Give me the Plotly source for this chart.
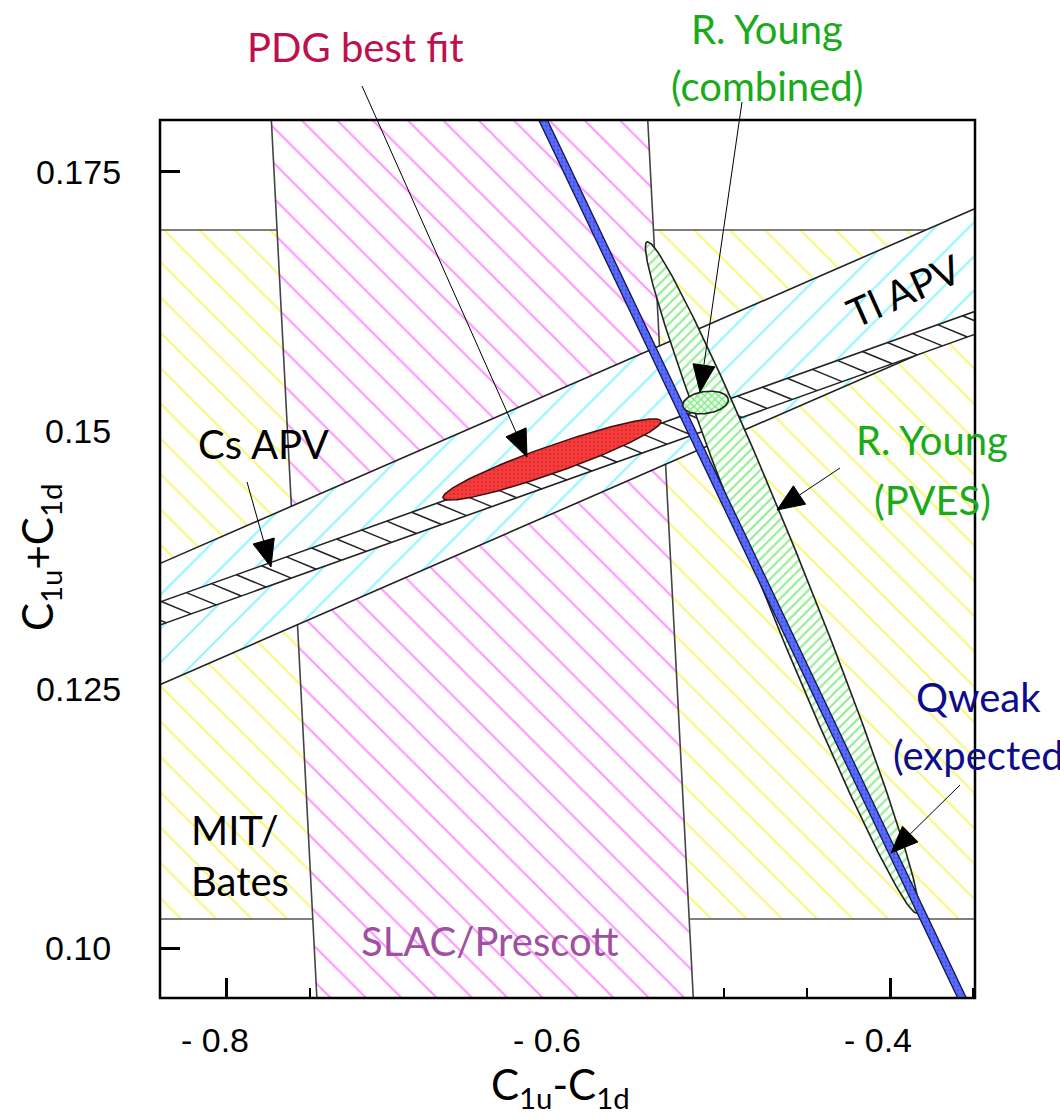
import numpy as np
import plotly.graph_objects as go

# ---------------- data ----------------
x_range = [-0.8404, -0.3489]          # C1u - C1d
y_range = [0.09517, 0.18002]          # C1u + C1d

x_tick_vals = [-0.8, -0.6, -0.4]
x_tick_text = ["- 0.8", "- 0.6", "- 0.4"]
x_minor_vals = [-0.8, -0.75, -0.7, -0.65, -0.6, -0.55, -0.5, -0.45, -0.4, -0.35]
y_tick_vals = [0.10, 0.125, 0.15, 0.175]
y_tick_text = ["0.10", "0.125", "0.15", "0.175"]

# MIT/Bates: allowed range of C1u+C1d
bates_y = [0.1028, 0.1694]

# SLAC/Prescott band: x = center + tilt*(y - ref_y) +- halfwidth
slac_center = -0.6468
slac_ref_y = 0.14
slac_tilt = -0.3236
slac_halfwidth = 0.1135

# Tl APV band: y = center + slope*(x - ref_x) +- halfwidth
tl_center = 0.14809
tl_ref_x = -0.6
tl_slope = 0.0698
tl_halfwidth = 0.00585

# Cs APV band
cs_center = 0.14607
cs_ref_x = -0.6
cs_slope = 0.05716
cs_halfwidth = 0.00111

# Qweak (expected) band: x = center + tilt*(y - ref_y) +- halfwidth
qweak_center = -0.5200
qweak_ref_y = 0.15
qweak_tilt = -2.978
qweak_halfwidth = 0.0026

# error ellipses: [center x, center y, sigma x, sigma y, correlation]
pdg_ellipse = [-0.6040, 0.14721, 0.0658, 0.003924, 0.934]
pves_ellipse = [-0.46526, 0.13581, 0.08239, 0.032444, -0.984]
combined_ellipse = [-0.5114, 0.15272, 0.01375, 0.001097, 0.22]

# ---------------- helpers ----------------
W, H = 1060, 1119
ML, MR, MT, MB = 160, 85, 120, 121
PW, PH = W - ML - MR, H - MT - MB


def pxx(x):
    return (x - ML) / PW


def pxy(y):
    return (H - MB - y) / PH


def ellipse(p, n=300):
    cx, cy, sx, sy, rho = p
    t = np.linspace(0, 2 * np.pi, n)
    x = cx + sx * np.cos(t)
    y = cy + sy * (rho * np.cos(t) + np.sqrt(1 - rho ** 2) * np.sin(t))
    return x, y


def xband(center, ref_y, tilt, hw, y0=0.08, y1=0.19):
    xl = lambda y: center + tilt * (y - ref_y) - hw
    xr = lambda y: center + tilt * (y - ref_y) + hw
    return ([xl(y0), xr(y0), xr(y1), xl(y1), xl(y0)], [y0, y0, y1, y1, y0])


def yband(center, ref_x, slope, hw, x0=-0.9, x1=-0.3):
    yl = lambda x: center + slope * (x - ref_x) - hw
    yu = lambda x: center + slope * (x - ref_x) + hw
    return ([x0, x1, x1, x0, x0], [yu(x0), yu(x1), yl(x1), yl(x0), yu(x0)])


fig = go.Figure()

# MIT/Bates (yellow)
fig.add_trace(go.Scatter(
    x=[-0.9, -0.3, -0.3, -0.9, -0.9],
    y=[bates_y[0], bates_y[0], bates_y[1], bates_y[1], bates_y[0]],
    mode="lines", fill="toself", line=dict(color="#555555", width=1.5),
    fillpattern=dict(shape="\\", fgcolor="#f5f000", bgcolor="white", size=25, solidity=0.09),
    hoverinfo="skip"))

# SLAC/Prescott (magenta)
sx_, sy_ = xband(slac_center, slac_ref_y, slac_tilt, slac_halfwidth)
fig.add_trace(go.Scatter(
    x=sx_, y=sy_, mode="lines", fill="toself", line=dict(color="#444444", width=1.6),
    fillpattern=dict(shape="\\", fgcolor="#ff30ff", bgcolor="white", size=25, solidity=0.09),
    hoverinfo="skip"))

# Tl APV (cyan)
tx_, ty_ = yband(tl_center, tl_ref_x, tl_slope, tl_halfwidth)
fig.add_trace(go.Scatter(
    x=tx_, y=ty_, mode="lines", fill="toself", line=dict(color="#222222", width=1.6),
    fillpattern=dict(shape="/", fgcolor="#22eeff", bgcolor="white", size=24, solidity=0.09),
    hoverinfo="skip"))

# Cs APV band (white with black hatch)
cx_, cy_ = yband(cs_center, cs_ref_x, cs_slope, cs_halfwidth)
fig.add_trace(go.Scatter(
    x=cx_, y=cy_, mode="lines", fill="toself", fillcolor="white",
    line=dict(color="#222222", width=1.6), hoverinfo="skip"))
hx, hy = [], []
step, slant = 0.0151, 0.018
for x0 in np.arange(-0.9, -0.3, step):
    x1 = x0 + slant
    hx += [x0, x1, None]
    hy += [cs_center + cs_slope * (x0 - cs_ref_x) + cs_halfwidth,
           cs_center + cs_slope * (x1 - cs_ref_x) - cs_halfwidth, None]
fig.add_trace(go.Scatter(x=hx, y=hy, mode="lines", line=dict(color="#222222", width=1.5),
                         hoverinfo="skip"))

# R. Young (PVES) green ellipse
ex, ey = ellipse(pves_ellipse)
fig.add_trace(go.Scatter(
    x=ex, y=ey, mode="lines", fill="toself", line=dict(color="#222222", width=1.6),
    fillpattern=dict(shape="/", fgcolor="#22dd22", bgcolor="white", size=7, solidity=0.3),
    hoverinfo="skip"))

# PDG best fit (red)
ex, ey = ellipse(pdg_ellipse)
fig.add_trace(go.Scatter(
    x=ex, y=ey, mode="lines", fill="toself", line=dict(color="#3a1010", width=1.5),
    fillpattern=dict(shape=".", fgcolor="#c82020", bgcolor="#f63c3c", size=4, solidity=0.3),
    hoverinfo="skip"))

# Qweak expected (blue)
qx_, qy_ = xband(qweak_center, qweak_ref_y, qweak_tilt, qweak_halfwidth)
fig.add_trace(go.Scatter(
    x=qx_, y=qy_, mode="lines", fill="toself", line=dict(color="#15154a", width=1.3),
    fillpattern=dict(shape=".", fgcolor="#3040c8", bgcolor="#5a6cff", size=4, solidity=0.3),
    hoverinfo="skip"))

# R. Young combined (green cross-hatch)
ex, ey = ellipse(combined_ellipse)
fig.add_trace(go.Scatter(
    x=ex, y=ey, mode="lines", fill="toself", line=dict(color="#222222", width=1.6),
    fillpattern=dict(shape="x", fgcolor="#1ed81e", bgcolor="#f4fff4", size=5, solidity=0.5),
    hoverinfo="skip"))

# ---------------- annotations ----------------
LAB = "Lato"
ann = []


def label(text, x, y, color="black", size=40, xanchor="center", angle=0):
    ann.append(dict(text=text, x=pxx(x), y=pxy(y), xref="paper", yref="paper",
                    xanchor=xanchor, yanchor="middle", showarrow=False, textangle=angle,
                    font=dict(family=LAB, size=size, color=color)))


label("PDG best fit", 355, 47, color="#c0104c")
label("R. Young", 767, 29, color="#1aaa1a")
label("(combined)", 767, 86, color="#1aaa1a")
label("Tl APV", 903, 291, angle=-24)
label("Cs APV", 263, 444)
label("R. Young", 932, 440, color="#1aaa1a")
label("(PVES)", 932, 500, color="#1aaa1a")
label("Qweak", 914, 697, color="#0c0c8c", xanchor="left")
label("(expected)", 891, 755, color="#0c0c8c", xanchor="left")
label("MIT/", 189, 830, xanchor="left")
label("Bates", 189, 881, xanchor="left")
label("SLAC/Prescott", 490, 941, color="#a050a0")

# arrows (line + filled triangular head) drawn as layout shapes
arrows = [((527, 457), (362, 86)),
          ((700, 392), (742, 102)),
          ((271, 567), (247, 482)),
          ((777, 510), (840, 468)),
          ((891, 853), (960, 785))]
shapes = []
HEAD_L, HEAD_W = 27, 11
for (tx, ty), (sx, sy) in arrows:
    dx, dy = tx - sx, ty - sy
    n = np.hypot(dx, dy)
    ux, uy = dx / n, dy / n
    bx, by = tx - HEAD_L * ux, ty - HEAD_L * uy
    c1 = (bx - HEAD_W * uy, by + HEAD_W * ux)
    c2 = (bx + HEAD_W * uy, by - HEAD_W * ux)
    shapes.append(dict(type="line", xref="paper", yref="paper",
                       x0=pxx(sx), y0=pxy(sy), x1=pxx(bx), y1=pxy(by),
                       line=dict(color="black", width=1), layer="above"))
    path = "M {:.5f},{:.5f} L {:.5f},{:.5f} L {:.5f},{:.5f} Z".format(
        pxx(tx), pxy(ty), pxx(c1[0]), pxy(c1[1]), pxx(c2[0]), pxy(c2[1]))
    shapes.append(dict(type="path", xref="paper", yref="paper", path=path,
                       fillcolor="black", line=dict(color="black", width=1), layer="above"))

# tick labels
for v, t in zip(y_tick_vals, y_tick_text):
    ann.append(dict(text=t, x=pxx(78), y=v, xref="paper", yref="y", xanchor="center",
                    yanchor="middle", showarrow=False,
                    font=dict(family="Liberation Sans", size=34, color="black")))
for v, t in zip(x_tick_vals, x_tick_text):
    ann.append(dict(text=t, x=v, y=pxy(1040), xref="x", yref="paper", xanchor="center",
                    yanchor="middle", xshift=-12, showarrow=False,
                    font=dict(family="Liberation Sans", size=34, color="black")))

# axis titles
ann.append(dict(text="C<sub>1u</sub>+C<sub>1d</sub>", x=pxx(40), y=pxy(557), xref="paper",
                yref="paper", textangle=-90, showarrow=False, xanchor="center", yanchor="middle",
                font=dict(family=LAB, size=42, color="black")))
ann.append(dict(text="C<sub>1u</sub>-C<sub>1d</sub>", x=pxx(560), y=pxy(1087), xref="paper",
                yref="paper", showarrow=False, xanchor="center", yanchor="middle",
                font=dict(family=LAB, size=42, color="black")))

shapes.append(dict(type="rect", xref="paper", yref="paper", x0=0, y0=0, x1=1, y1=1,
                   line=dict(color="black", width=2.5), layer="above"))

fig.update_layout(
    width=W, height=H, margin=dict(l=ML, r=MR, t=MT, b=MB),
    paper_bgcolor="white", plot_bgcolor="white", showlegend=False,
    annotations=ann, shapes=shapes,
    xaxis=dict(range=x_range, showgrid=False, zeroline=False, showticklabels=False,
               tickvals=x_tick_vals, ticks="inside", ticklen=20, tickwidth=2.5,
               tickcolor="black", layer="below traces",
               minor=dict(tickvals=x_minor_vals, ticks="inside", ticklen=10,
                          tickwidth=2, tickcolor="black")),
    yaxis=dict(range=y_range, showgrid=False, zeroline=False, showticklabels=False,
               tickvals=y_tick_vals, ticks="inside", ticklen=20, tickwidth=2.5,
               tickcolor="black", layer="below traces"),
)

fig.write_html("out.html")
